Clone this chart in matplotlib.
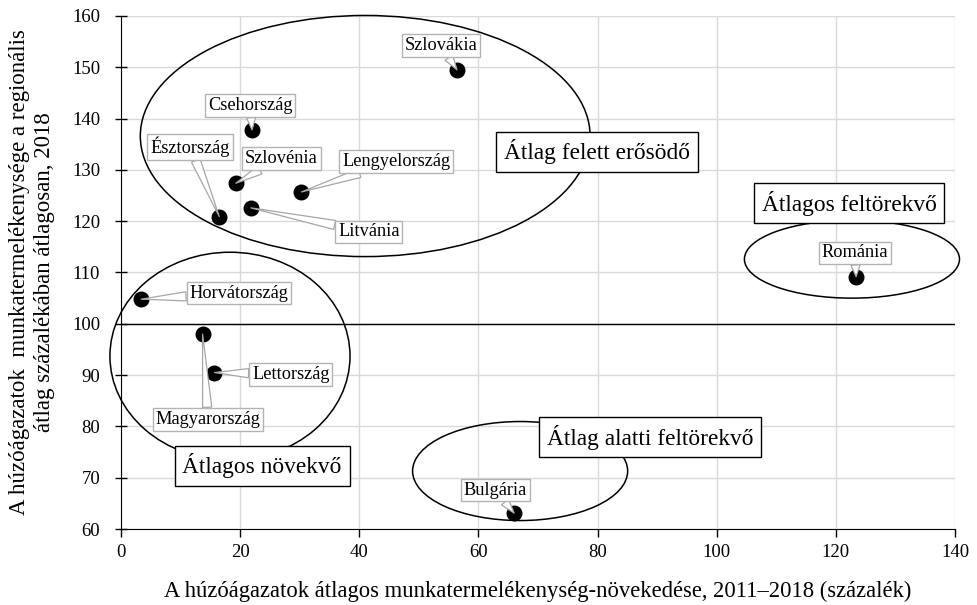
#!/usr/bin/env python3
"""Húzóágazatok termelékenysége: szórásdiagram csoportokkal."""
import matplotlib

matplotlib.use("Agg")
import matplotlib.pyplot as plt
from matplotlib.patches import Ellipse

plt.rcParams["font.family"] = ["Liberation Serif", "DejaVu Serif"]

COUNTRIES = [
    "Szlovákia", "Csehország", "Észtország", "Szlovénia", "Lengyelország",
    "Litvánia", "Horvátország", "Magyarország", "Lettország", "Románia", "Bulgária",
]
GROWTH = [56.4, 22.0, 16.5, 19.3, 30.3, 21.8, 3.4, 13.7, 15.7, 123.4, 66.0]
LEVEL = [149.5, 137.8, 120.9, 127.4, 125.7, 122.6, 104.8, 98.0, 90.5, 109.2, 63.1]
LABEL_POS = [
    (53.7, 154.2), (21.7, 142.5), (11.6, 134.5), (26.9, 132.3), (46.2, 131.7),
    (41.6, 117.9), (19.8, 106.0), (14.6, 81.4), (28.5, 90.2), (123.2, 113.8),
    (62.8, 67.6),
]

GROUPS = ["Átlag felett erősödő", "Átlagos feltörekvő", "Átlag alatti feltörekvő", "Átlagos növekvő"]
GROUP_POS = [(79.9, 133.5), (122.2, 123.5), (88.8, 77.9), (23.7, 72.3)]
# ellipse: center x, center y, width, height (data units)
ELLIPSES = [
    (41.0, 136.6, 75.5, 47.0),
    (122.7, 112.6, 36.1, 15.2),
    (67.0, 71.3, 36.1, 19.3),
    (18.3, 93.7, 40.3, 40.5),
]

fig = plt.figure(figsize=(9.77, 6.05), dpi=100)
ax = fig.add_axes([0.1238, 0.1256, 0.8537, 0.848])

ax.set_xlim(0, 140)
ax.set_ylim(60, 160)
ax.set_xticks(range(0, 141, 20))
ax.set_yticks(range(60, 161, 10))
ax.grid(True, color="#d9d9d9", lw=1)
ax.set_axisbelow(True)
for side in ("top", "right"):
    ax.spines[side].set_visible(False)
ax.tick_params(labelsize=13.5, length=6, width=1, colors="black", pad=5)
ax.tick_params(axis="y", direction="inout", length=8, pad=11)

ax.axhline(100, color="black", lw=1, zorder=2)

for cx, cy, w, h in ELLIPSES:
    ax.add_patch(Ellipse((cx, cy), w, h, fill=False, ec="black", lw=1.1,
                         clip_on=False, zorder=3))

ax.scatter(GROWTH, LEVEL, s=110, color="black", zorder=5)

for name, x, y, (tx, ty) in zip(COUNTRIES, GROWTH, LEVEL, LABEL_POS):
    ax.annotate(
        name, xy=(x, y), xytext=(tx, ty), ha="center", va="center", fontsize=13.2,
        bbox=dict(boxstyle="square,pad=0.16", fc="white", ec="#b3b3b3", lw=1),
        arrowprops=dict(arrowstyle="wedge,tail_width=0.5,shrink_factor=0.5",
                        fc="white", ec="#a6a6a6", lw=0.9, shrinkA=0, shrinkB=0),
        zorder=6,
    )

for name, (gx, gy) in zip(GROUPS, GROUP_POS):
    ax.text(gx, gy, name, ha="center", va="center", fontsize=16.8,
            bbox=dict(boxstyle="square,pad=0.33", fc="white", ec="black", lw=1),
            zorder=7)

ax.set_xlabel("A húzóágazatok átlagos munkatermelékenység-növekedése, 2011–2018 (százalék)",
              fontsize=16.3, labelpad=14)
ax.set_ylabel("A húzóágazatok  munkatermelékenysége a regionális\nátlag százalékában átlagosan, 2018",
              fontsize=16.5, labelpad=12, linespacing=1.3)

fig.savefig("out.png", dpi=100)
